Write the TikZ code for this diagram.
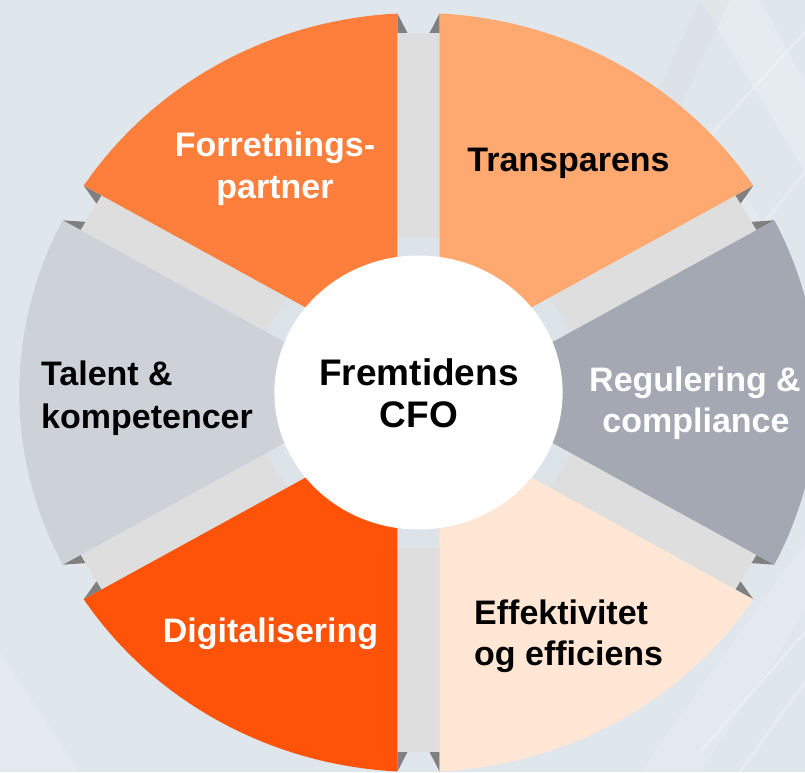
\documentclass[tikz,border=0pt]{standalone}
\usepackage{fontspec}
\setmainfont{Liberation Sans}
\begin{document}
\begin{tikzpicture}[x=1pt,y=1pt,
  bandfill/.style={fill=bandgrey},
  tri/.style={fill=trigrey},
  lbl/.style={inner sep=0pt,anchor=base,font=\bfseries\fontsize{34}{42}\selectfont},
  lblw/.style={lbl,anchor=base west},
  ctr/.style={inner sep=0pt,anchor=base,font=\bfseries\fontsize{37}{42}\selectfont},
  archline/.style={draw=white,opacity=0.3,line width=2.5pt}]
\definecolor{bg}{HTML}{DFE6EC}
\definecolor{ring}{HTML}{DCE3E9}
\definecolor{bandgrey}{HTML}{DEDEDE}
\definecolor{trigrey}{HTML}{808080}
\definecolor{cForr}{HTML}{FE7F3C}
\definecolor{cTrans}{HTML}{FFA86F}
\definecolor{cReg}{HTML}{A3A8B3}
\definecolor{cEff}{HTML}{FFE6D5}
\definecolor{cDig}{HTML}{FE5308}
\definecolor{cTal}{HTML}{CDD2D9}
% background
\fill[bg] (0,0) rectangle (805,772);
\useasboundingbox (0,0) rectangle (805,772);
% faint architecture in the background
\fill[white,opacity=0.2] (700,772) -- (760,772) -- (805,690) -- (805,600) -- cycle;
\fill[black!20,opacity=0.15] (650,600) -- (730,772) -- (700,772) -- (630,620) -- cycle;
\fill[white,opacity=0.15] (730,600) -- (805,480) -- (805,430) -- (700,590) -- cycle;
\draw[archline] (640,560) -- (805,740);
\draw[archline] (700,470) -- (805,600);
\fill[white,opacity=0.15] (640,0) -- (700,0) -- (805,160) -- (805,230) -- cycle;
\draw[archline] (700,20) -- (805,140);
\draw[archline] (740,0) -- (805,90);
\fill[white,opacity=0.15] (0,0) -- (80,0) -- (0,120) -- cycle;
\begin{scope}[shift={(418.5,379.5)},xscale=1.052]
  % bands between segments
  \foreach \a in {90,30,-30,-90,-150,150}{
    \fill[bandfill,rotate=\a] (0,-20) rectangle (359.5,20);
    \fill[tri,rotate=\a] (379,-20) -- (359.5,-20) -- (359.5,-10.5) -- cycle;
    \fill[tri,rotate=\a] (379,20) -- (359.5,20) -- (359.5,10.5) -- cycle;
  }
  % ring round the centre
  \fill[ring] (0,0) circle[radius=156];
  % segments
  \foreach \t/\c in {60/cTrans,0/cReg,-60/cEff,-120/cDig,180/cTal,120/cForr}{
    \fill[\c] (\t:40) -- ({\t-30+3.021}:379.5)
      arc[start angle={\t-30+3.021}, end angle={\t+30-3.021}, radius=379.5] -- cycle;
  }
  % centre
  \fill[white] (0,0) circle[radius=137];
\end{scope}
% labels
\node[lbl,white] (forr1) at (275,615) {Forretnings-};
\node[lbl,white] (forr2) at (275,573) {partner};
\node[lbl] (trans) at (568.5,600) {Transparens};
\node[lblw] (tal1) at (41,386.5) {Talent \&};
\node[lblw] (tal2) at (41,344) {kompetencer};
\node[ctr] (cfo1) at (419,387) {Fremtidens};
\node[ctr] (cfo2) at (419,345) {CFO};
\node[lbl,white] (reg1) at (695,381) {Regulering \&};
\node[lbl,white] (reg2) at (696,340) {compliance};
\node[lbl,white] (dig) at (270.5,129.5) {Digitalisering};
\node[lblw] (eff1) at (474,148) {Effektivitet};
\node[lblw] (eff2) at (474,107) {og efficiens};
\end{tikzpicture}
\end{document}
